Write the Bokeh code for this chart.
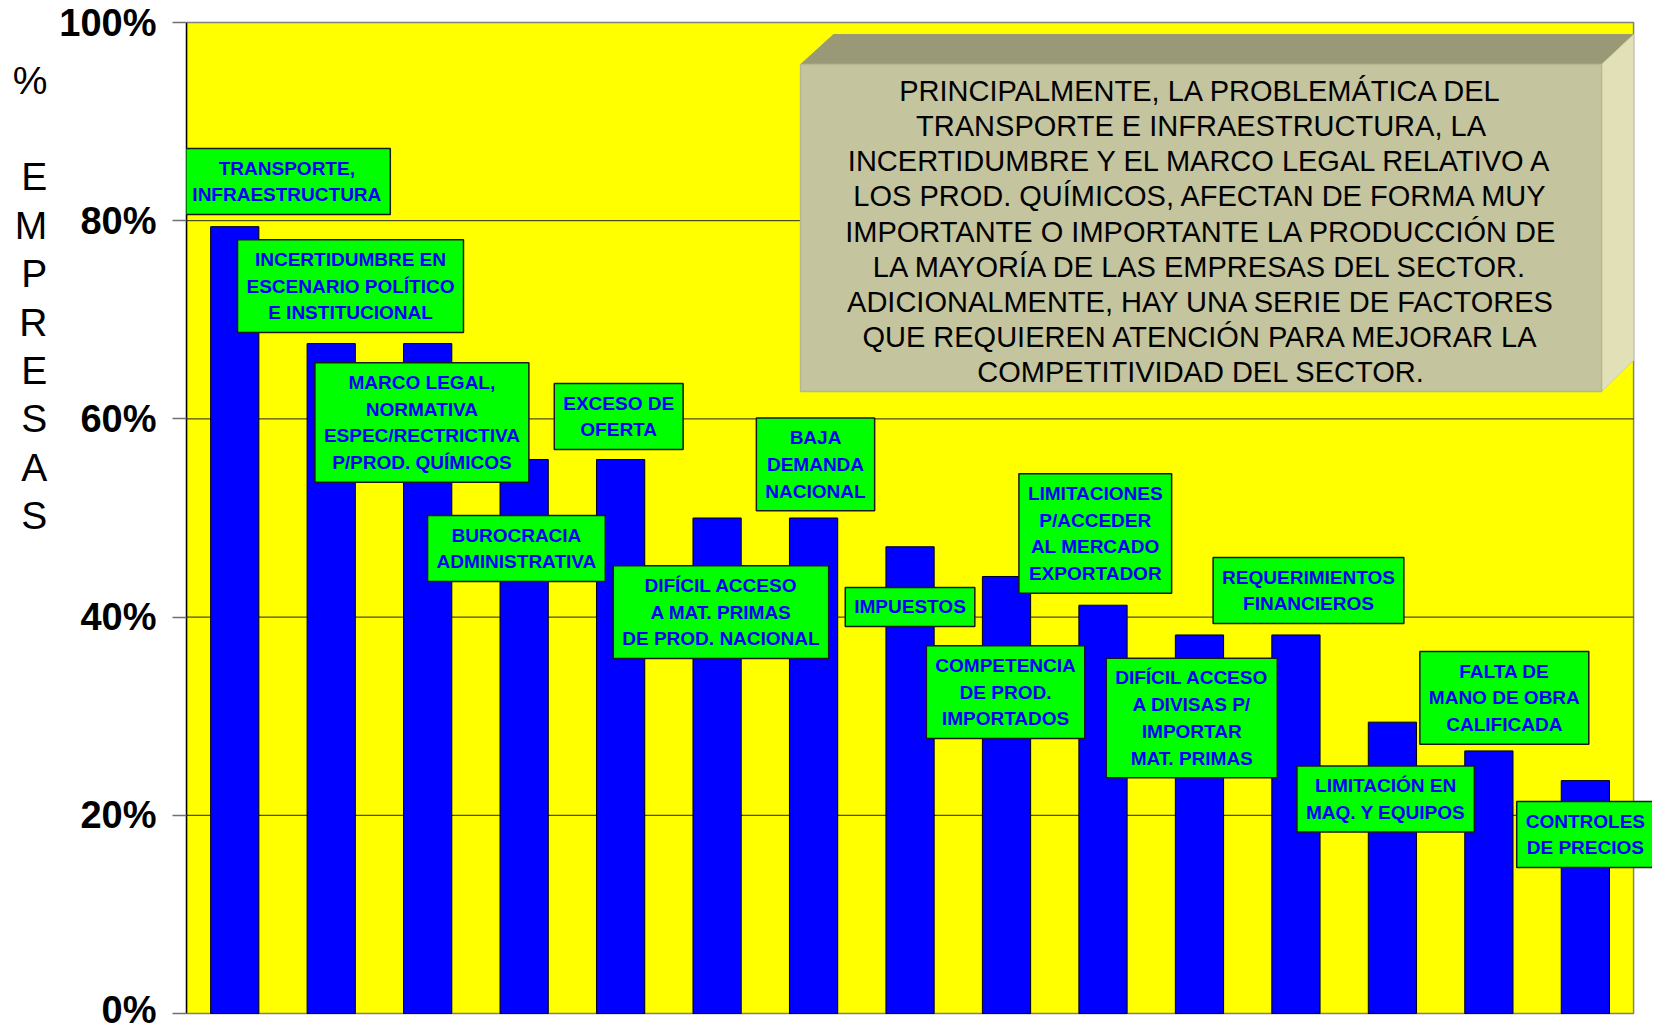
from bokeh.plotting import figure
from bokeh.models import Range1d, FixedTicker, Label
from bokeh.embed import file_html
from bokeh.resources import INLINE

# ---------------- data ----------------
categories = [
    "TRANSPORTE,\nINFRAESTRUCTURA",
    "INCERTIDUMBRE EN\nESCENARIO POLÍTICO\nE INSTITUCIONAL",
    "MARCO LEGAL,\nNORMATIVA\nESPEC/RECTRICTIVA\nP/PROD. QUÍMICOS",
    "BUROCRACIA\nADMINISTRATIVA",
    "EXCESO DE\nOFERTA",
    "DIFÍCIL ACCESO\nA MAT. PRIMAS\nDE PROD. NACIONAL",
    "BAJA\nDEMANDA\nNACIONAL",
    "IMPUESTOS",
    "COMPETENCIA\nDE PROD.\nIMPORTADOS",
    "LIMITACIONES\nP/ACCEDER\nAL MERCADO\nEXPORTADOR",
    "DIFÍCIL ACCESO\nA DIVISAS P/\nIMPORTAR\nMAT. PRIMAS",
    "REQUERIMIENTOS\nFINANCIEROS",
    "LIMITACIÓN EN\nMAQ. Y EQUIPOS",
    "FALTA DE\nMANO DE OBRA\nCALIFICADA",
    "CONTROLES\nDE PRECIOS",
]
values = [79.4, 67.6, 67.6, 55.9, 55.9, 50.0, 50.0, 47.1, 44.1, 41.2, 38.2, 38.2, 29.4, 26.5, 23.5]

y_ticks = [0, 20, 40, 60, 80, 100]
y_tick_labels = ["0%", "20%", "40%", "60%", "80%", "100%"]
y_axis_letters = ["%", "", "E", "M", "P", "R", "E", "S", "A", "S"]

note_text = ("PRINCIPALMENTE, LA PROBLEMÁTICA DEL\n"
             "TRANSPORTE E INFRAESTRUCTURA, LA\n"
             "INCERTIDUMBRE Y EL MARCO LEGAL RELATIVO A\n"
             "LOS PROD. QUÍMICOS, AFECTAN DE FORMA MUY\n"
             "IMPORTANTE O IMPORTANTE LA PRODUCCIÓN DE\n"
             "LA MAYORÍA DE LAS EMPRESAS DEL SECTOR.\n"
             "ADICIONALMENTE, HAY UNA SERIE DE FACTORES\n"
             "QUE REQUIEREN ATENCIÓN PARA MEJORAR LA\n"
             "COMPETITIVIDAD DEL SECTOR.")

# ---------------- layout (positions of the callout boxes) ----------------
label_dx = [0.54, 0.20, -0.06, -0.08, -0.02, 0.04, 0.02, 0.0, -0.01, -0.08, -0.08, 0.13, -0.07, 0.16, 0.0]
label_y = [83.96, 73.41, 59.64, 46.92, 60.24, 40.51, 55.40, 41.02, 32.44, 48.44, 29.82, 42.68, 21.65, 31.84, 18.06]

n = len(categories)
x_pos = [i + 0.5 for i in range(n)]
y_max = y_ticks[-1]

p = figure(
    x_range=Range1d(0, 15.196),
    y_range=Range1d(-1.715, 102.22),
    frame_width=1466, frame_height=1030,
    min_border_left=186, min_border_right=0, min_border_top=0, min_border_bottom=0,
    output_backend="svg", toolbar_location=None,
)
p.background_fill_color = "white"
p.border_fill_color = "white"
p.outline_line_color = None
p.xaxis.visible = False
p.xgrid.visible = False
p.ygrid.visible = False

ya = p.yaxis[0]
ya.bounds = (0, y_max)
ya.ticker = FixedTicker(ticks=y_ticks)
ya.major_label_overrides = {t: l for t, l in zip(y_ticks, y_tick_labels)}
ya.major_label_text_font = "Liberation Sans"
ya.major_label_text_font_style = "bold"
ya.major_label_text_font_size = "38px"
ya.major_label_text_color = "black"
ya.major_label_standoff = 16
ya.major_tick_out = 14
ya.major_tick_in = 0
ya.major_tick_line_color = "#707070"
ya.major_tick_line_width = 1.5
ya.minor_tick_line_color = None
ya.axis_line_color = "black"
ya.axis_line_width = 1.5
# stacked title; trailing blank lines lift the block towards the top of the axis
ya.axis_label = "\n".join(y_axis_letters + [" "] * 9)
ya.axis_label_orientation = "horizontal"
ya.axis_label_text_font = "Liberation Sans"
ya.axis_label_text_font_style = "normal"
ya.axis_label_text_font_size = "39px"
ya.axis_label_text_line_height = 1.125
ya.axis_label_text_align = "center"
ya.axis_label_text_color = "black"
ya.axis_label_standoff = 9

# plot area (yellow) and grid lines
p.quad(left=0, right=n, bottom=0, top=y_max, fill_color="#ffff00",
       line_color="#808080", line_width=1.5)
p.segment(x0=0, x1=n, y0=y_ticks[1:-1], y1=y_ticks[1:-1], line_color="#222222", line_width=1)

# bars
p.vbar(x=x_pos, top=values, width=0.5, bottom=0,
       fill_color="#0000ff", line_color="black", line_width=1)

# 3-D note box
front_x0, front_x1, front_y0, front_y1 = 6.365, 14.668, 62.76, 95.76
back_x0, back_x1, back_y1, side_y0 = 6.707, 15.0, 98.79, 65.9
p.patch([front_x0, back_x0, back_x1, front_x1], [front_y1, back_y1, back_y1, front_y1],
        fill_color="#999977", line_color="#999977", line_width=1)
p.patch([front_x1, back_x1, back_x1, front_x1], [front_y1, back_y1, side_y0, front_y0],
        fill_color="#e2e0b6", line_color="#d0cea0", line_width=1)
p.quad(left=front_x0, right=front_x1, bottom=front_y0, top=front_y1,
       fill_color="#c4c49e", line_color="#b8b890", line_width=1.5)

p.add_layout(Label(x=(front_x0 + front_x1) / 2, y=78.9, text=note_text,
                   text_align="center", text_baseline="middle",
                   text_font="Liberation Sans", text_font_size="29px",
                   text_line_height=1.10, text_color="black"))

# callout labels
for i, (txt, dx, yy) in enumerate(zip(categories, label_dx, label_y)):
    p.add_layout(Label(
        x=x_pos[i] + dx, y=yy, text=txt,
        text_align="center", text_baseline="middle",
        text_font="Liberation Sans", text_font_style="bold", text_font_size="19px",
        text_line_height=1.28, text_color="#0000ff",
        background_fill_color="#00ff00", border_line_color="#1a1a1a", border_line_width=1.5,
        padding=(9, 9),
    ))

open("out.html", "w").write(file_html(p, INLINE))
